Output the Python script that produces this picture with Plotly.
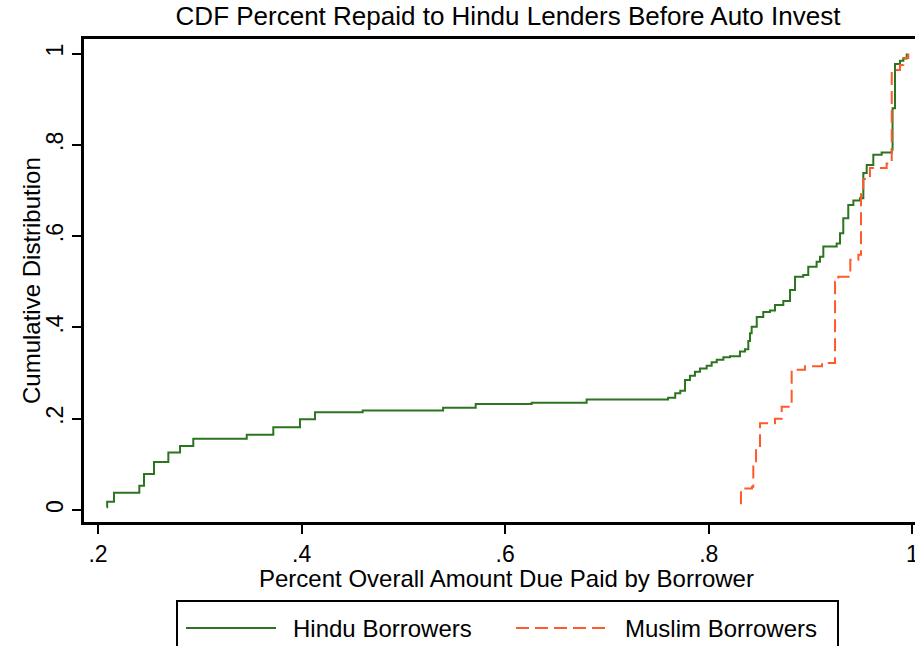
import plotly.graph_objects as go

# Empirical CDF of share of the amount due that each borrower repaid
hindu_x = [0.2085, 0.2090, 0.2157, 0.2406, 0.2452, 0.2550, 0.2691, 0.2806, 0.2936,
           0.3461, 0.3722, 0.3984, 0.4132, 0.4600, 0.5390, 0.5710, 0.6260, 0.6800,
           0.7600, 0.7670, 0.7720, 0.7766, 0.7815, 0.7864, 0.7914, 0.7979, 0.8028,
           0.8078, 0.8143, 0.8208, 0.8306, 0.8356, 0.8388, 0.8405, 0.8421, 0.8471,
           0.8535, 0.8601, 0.8650, 0.8732, 0.8798, 0.8847, 0.8928, 0.8977, 0.9059,
           0.9092, 0.9125, 0.9256, 0.9289, 0.9321, 0.9370, 0.9420, 0.9485, 0.9518,
           0.9551, 0.9616, 0.9698, 0.9797, 0.9805, 0.9829, 0.9878, 0.9911, 0.9944]
hindu_cdf = [0.006, 0.018, 0.038, 0.053, 0.079, 0.105, 0.126, 0.140, 0.156,
             0.165, 0.181, 0.199, 0.214, 0.218, 0.224, 0.232, 0.235, 0.242,
             0.246, 0.2555, 0.261, 0.285, 0.294, 0.303, 0.310, 0.316, 0.3235,
             0.329, 0.3345, 0.337, 0.347, 0.352, 0.370, 0.387, 0.4015, 0.423,
             0.434, 0.437, 0.449, 0.458, 0.482, 0.511, 0.515, 0.533, 0.544,
             0.555, 0.577, 0.584, 0.606, 0.639, 0.668, 0.678, 0.683, 0.738,
             0.756, 0.778, 0.783, 0.789, 0.880, 0.977, 0.984, 0.989, 1.000]

muslim_x = [0.8306, 0.8316, 0.8424, 0.8437, 0.8464, 0.8503, 0.8650, 0.8716, 0.8798,
            0.8814, 0.8945, 0.9112, 0.9240, 0.9272, 0.9387, 0.9390, 0.9469, 0.9495,
            0.9517, 0.9583, 0.9747, 0.9797, 0.9878, 0.9911, 0.9960]
muslim_cdf = [0.015, 0.047, 0.051, 0.100, 0.140, 0.190, 0.200, 0.226, 0.237,
              0.307, 0.315, 0.322, 0.500, 0.511, 0.518, 0.548, 0.559, 0.700,
              0.725, 0.749, 0.759, 0.964, 0.975, 0.990, 1.000]

x_tick_vals = [0.2, 0.4, 0.6, 0.8, 1.0]
x_tick_text = [".2", ".4", ".6", ".8", "1"]
y_tick_vals = [0.0, 0.2, 0.4, 0.6, 0.8, 1.0]
y_tick_text = ["0", ".2", ".4", ".6", ".8", "1"]

series_names = ["Hindu Borrowers", "Muslim Borrowers"]

GREEN = "#2c7420"
ORANGE = "#ff5a2c"
FONT = "Liberation Sans, Arial, Helvetica, sans-serif"
DASH = "13px,6px"

W, H = 915, 646
ML, MR, MT, MB = 84, 0, 39, 124
PW, PH = W - ML - MR, H - MT - MB


def px_x(p):
    """Horizontal pixel -> paper coordinate."""
    return (p - ML) / PW


def px_y(p):
    """Vertical pixel (from top) -> paper coordinate."""
    return (H - MB - p) / PH


fig = go.Figure()
fig.add_trace(go.Scatter(
    x=hindu_x, y=hindu_cdf, mode="lines", name=series_names[0],
    line=dict(shape="hv", color=GREEN, width=2), showlegend=False))
fig.add_trace(go.Scatter(
    x=muslim_x, y=muslim_cdf, mode="lines", name=series_names[1],
    line=dict(shape="hv", color=ORANGE, width=2, dash=DASH), showlegend=False))

fig.update_layout(
    width=W, height=H,
    margin=dict(l=ML, r=MR, t=MT, b=MB, pad=0, autoexpand=False),
    paper_bgcolor="white", plot_bgcolor="white",
    font=dict(family=FONT, color="black", size=24),
    showlegend=False,
    title=dict(text="CDF Percent Repaid to Hindu Lenders Before Auto Invest",
               font=dict(size=26, family=FONT, color="black"),
               xref="paper", x=px_x(508), xanchor="center",
               yref="container", y=1 - 16 / H, yanchor="middle"),
)

fig.update_xaxes(
    range=[0.18625, 1.00255], tickmode="array",
    tickvals=x_tick_vals, ticktext=x_tick_text,
    ticks="outside", ticklen=9, tickwidth=2, tickcolor="black",
    showline=True, linecolor="black", linewidth=3, mirror=True,
    showgrid=False, zeroline=False, tickfont=dict(size=23),
    ticklabeloverflow="allow", automargin=False,
)
fig.update_yaxes(
    range=[-0.0263, 1.0318], tickmode="array",
    tickvals=y_tick_vals, ticktext=y_tick_text, tickangle=-90,
    ticks="outside", ticklen=9, tickwidth=2, tickcolor="black",
    showline=True, linecolor="black", linewidth=3, mirror=False,
    showgrid=False, zeroline=False, tickfont=dict(size=23),
    ticklabeloverflow="allow", automargin=False,
)

annotations = [
    dict(text="Percent Overall Amount Due Paid by Borrower", xref="paper", yref="paper",
         x=px_x(506), y=px_y(578), xanchor="center", yanchor="middle",
         showarrow=False, font=dict(size=24)),
    dict(text="Cumulative Distribution", xref="paper", yref="paper",
         x=px_x(31), y=px_y(281), xanchor="center", yanchor="middle", textangle=-90,
         showarrow=False, font=dict(size=24)),
    dict(text=series_names[0], xref="paper", yref="paper",
         x=px_x(291), y=px_y(628), xanchor="left", yanchor="middle",
         showarrow=False, font=dict(size=24)),
    dict(text=series_names[1], xref="paper", yref="paper",
         x=px_x(623), y=px_y(628), xanchor="left", yanchor="middle",
         showarrow=False, font=dict(size=24)),
]

shapes = [
    # legend frame (runs past the bottom edge of the page)
    dict(type="rect", xref="paper", yref="paper",
         x0=px_x(177), x1=px_x(838), y0=px_y(601), y1=px_y(670),
         line=dict(color="black", width=2), fillcolor="white", layer="below"),
    dict(type="line", xref="paper", yref="paper",
         x0=px_x(186), x1=px_x(276), y0=px_y(628), y1=px_y(628),
         line=dict(color=GREEN, width=2)),
    dict(type="line", xref="paper", yref="paper",
         x0=px_x(516), x1=px_x(610), y0=px_y(628), y1=px_y(628),
         line=dict(color=ORANGE, width=2, dash=DASH)),
]

fig.update_layout(annotations=annotations, shapes=shapes)

fig.write_html("out.html")
